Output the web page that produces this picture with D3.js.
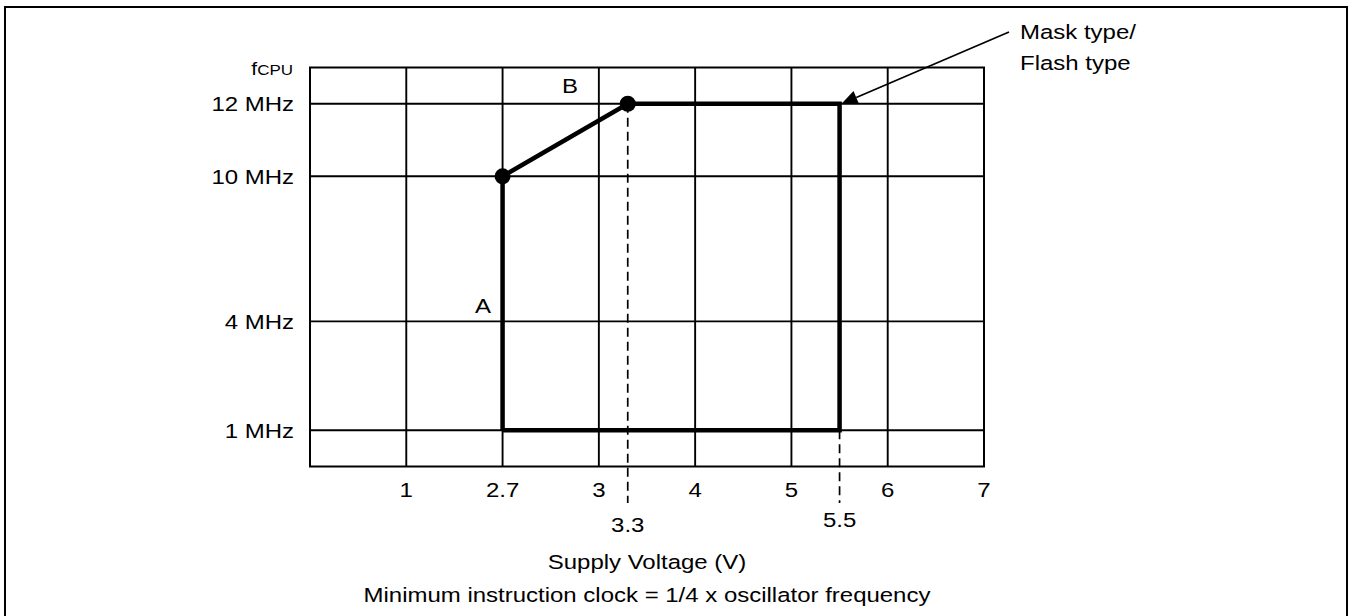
<!DOCTYPE html>
<html>
<head>
<meta charset="utf-8">
<script src="https://cdn.jsdelivr.net/npm/d3@7"></script>
<style>
  html, body { margin: 0; padding: 0; background: #fff; }
  svg { display: block; font-family: "Liberation Sans", Arial, sans-serif; }
</style>
</head>
<body>
<svg id="chart" width="1353" height="616"></svg>
<script>
// ---- data ----
const xTicks = [1, 2.7, 3, 4, 5, 6, 7];
const xTickLabels = ["1", "2.7", "3", "4", "5", "6", "7"];
const xDomain = [0, 1, 2.7, 3, 4, 5, 6, 7];          // equally spaced columns
const yTicks = [12, 10, 4, 1];
const yTickLabels = ["12 MHz", "10 MHz", "4 MHz", "1 MHz"];
const yDomain = [13, 12, 10, 4, 1, 0];
const yUnits = [0, 1, 3, 7, 10, 11];                  // relative row spacing
const regionVoltage = [2.7, 2.7, 3.3, 5.5, 5.5, 2.7];
const regionFreq    = [1, 10, 12, 12, 1, 1];
const markerVoltage = [2.7, 3.3];
const markerFreq    = [10, 12];
const dashedV = [3.3, 5.5];
const dashedFrom = [12, 1];
const dashedLabels = ["3.3", "5.5"];
const xTitle = "Supply Voltage (V)";
const note = "Minimum instruction clock = 1/4 x oscillator frequency";
const annotation = ["Mask type/", "Flash type"];

// ---- layout ----
const svg = d3.select("#chart");
const L = 310, R = 984, T = 67.5, B = 466.5;
const FS = 20.5, SX = 1.17;

function label(sel, px, py, str, anchor, size) {
  const t = sel.append("text")
    .attr("transform", `translate(${px},${py}) scale(${SX},1)`)
    .attr("text-anchor", anchor || "start")
    .attr("font-size", size || FS);
  if (str !== null) t.text(str);
  return t;
}

svg.append("rect").attr("x", 5).attr("y", 7).attr("width", 1342).attr("height", 640)
  .attr("fill", "none").attr("stroke", "#000").attr("stroke-width", 2);

const x = d3.scaleLinear()
  .domain(xDomain)
  .range(xDomain.map((d, i) => L + (R - L) * i / (xDomain.length - 1)));
const y = d3.scaleLinear()
  .domain(yDomain)
  .range(yUnits.map(u => T + (B - T) * u / yUnits[yUnits.length - 1]));

const g = svg.append("g");

// grid
g.selectAll("line.vg").data(xTicks.slice(0, -1)).join("line")
  .attr("x1", d => x(d)).attr("x2", d => x(d)).attr("y1", T).attr("y2", B)
  .attr("stroke", "#000").attr("stroke-width", 1.9);
g.selectAll("line.hg").data(yTicks).join("line")
  .attr("x1", L).attr("x2", R).attr("y1", d => y(d)).attr("y2", d => y(d))
  .attr("stroke", "#000").attr("stroke-width", 1.9);
g.append("rect").attr("x", L).attr("y", T).attr("width", R - L).attr("height", B - T)
  .attr("fill", "none").attr("stroke", "#000").attr("stroke-width", 2);

// x tick labels
xTicks.forEach((d, i) => label(g, x(d), 497, xTickLabels[i], "middle"));

// y tick labels
yTicks.forEach((d, i) => label(g, 294, y(d) + 7.5, yTickLabels[i], "end"));

// f CPU
const fl = label(g, 293, 75, null, "end");
fl.append("tspan").attr("font-size", 18).text("f");
fl.append("tspan").attr("font-size", 14.5).text("CPU");

// dashed lines
dashedV.forEach((v, i) => {
  g.append("line").attr("x1", x(v)).attr("x2", x(v))
    .attr("y1", y(dashedFrom[i])).attr("y2", 503)
    .attr("stroke", "#000").attr("stroke-width", 1.7).attr("stroke-dasharray", "9,5");
});
label(g, x(dashedV[0]), 532, dashedLabels[0], "middle");
label(g, x(dashedV[1]), 527, dashedLabels[1], "middle");

// operating region
const pts = regionVoltage.map((v, i) => [x(v), y(regionFreq[i])]);
g.append("path").attr("d", d3.line()(pts)).attr("fill", "none")
  .attr("stroke", "#000").attr("stroke-width", 4.5).attr("stroke-linejoin", "miter");

g.selectAll("circle.m").data(markerVoltage).join("circle")
  .attr("cx", d => x(d)).attr("cy", (d, i) => y(markerFreq[i])).attr("r", 8).attr("fill", "#000");

// A / B labels
label(g, 483, 313, "A", "middle");
label(g, 570, 93, "B", "middle");

// annotation arrow
const tip = [x(5.5) + 2, y(12)];
const start = [1009, 32];
const dx = start[0] - tip[0], dy = start[1] - tip[1];
const len = Math.hypot(dx, dy), ux = dx / len, uy = dy / len;
const hl = 16, hw = 7;
const bc = [tip[0] + ux * hl, tip[1] + uy * hl];
g.append("line").attr("x1", start[0]).attr("y1", start[1]).attr("x2", bc[0]).attr("y2", bc[1])
  .attr("stroke", "#000").attr("stroke-width", 1.7);
g.append("path").attr("d", d3.line()([tip, [bc[0] - uy * hw, bc[1] + ux * hw], [bc[0] + uy * hw, bc[1] - ux * hw]]) + "Z")
  .attr("fill", "#000");
annotation.forEach((t, i) => label(g, 1020, 39 + i * 31, t, "start"));

// titles
label(g, 647, 569, xTitle, "middle");
label(g, 647, 602, note, "middle");
</script>
</body>
</html>
